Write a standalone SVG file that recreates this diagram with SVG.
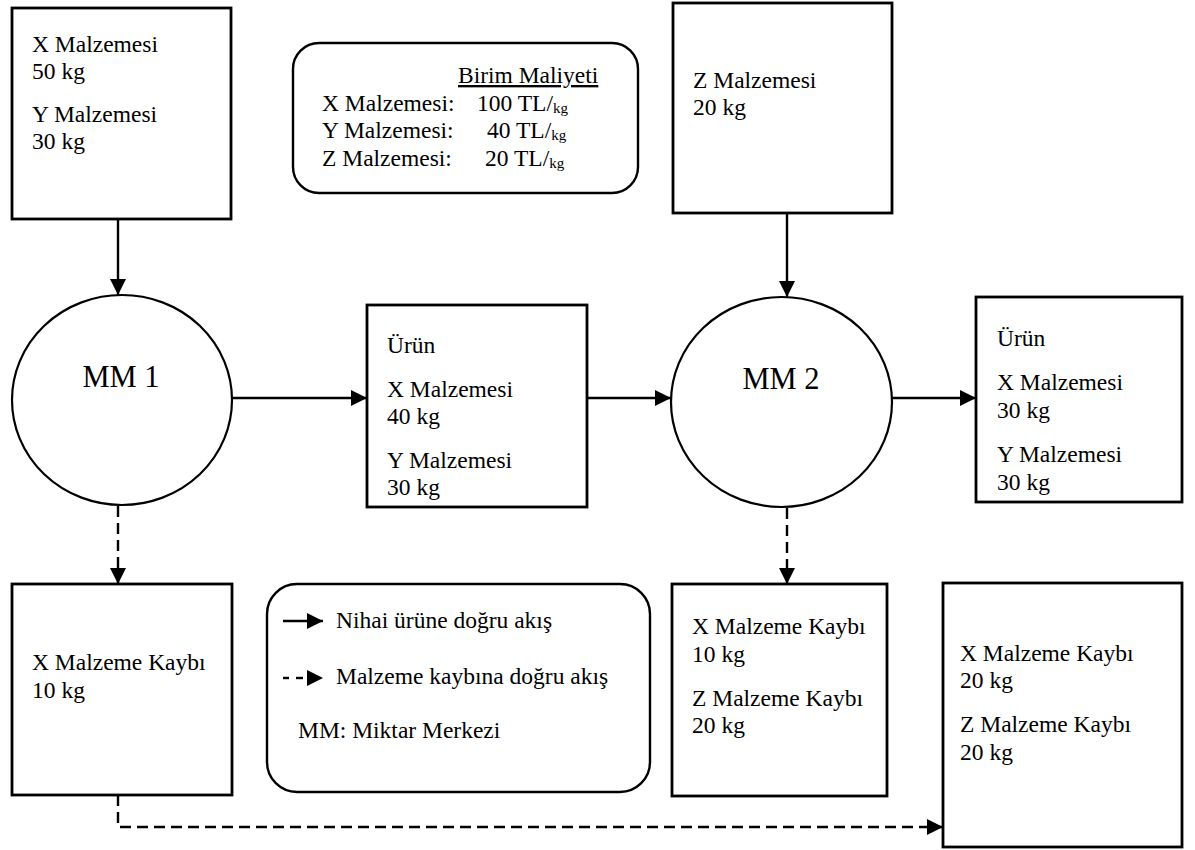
<svg xmlns="http://www.w3.org/2000/svg" width="1195" height="850" viewBox="0 0 1195 850" font-family="'Liberation Serif', 'Times New Roman', 'DejaVu Serif', serif">
  <defs>
    <marker id="arrow" markerUnits="userSpaceOnUse" markerWidth="18" markerHeight="18" viewBox="0 0 18 18" refX="16" refY="9" orient="auto">
      <path d="M0,1 L16,9 L0,17 z" fill="#000"/>
    </marker>
    <style>
      text { font-family: "Liberation Serif", "Times New Roman", "DejaVu Serif", serif; font-size: 23.5px; fill: #000; }
      .box { fill: #fff; stroke: #000; stroke-width: 2.8; }
      .round { fill: #fff; stroke: #000; stroke-width: 2.4; }
      .center { fill: #fff; stroke: #000; stroke-width: 2.2; }
      .mm { font-size: 30.5px; text-anchor: middle; }
      .sub { font-size: 15px; }
      .flow { fill: none; stroke: #000; stroke-width: 2.4; marker-end: url(#arrow); }
      .loss { fill: none; stroke: #000; stroke-width: 2.4; stroke-dasharray: 11 6; marker-end: url(#arrow); }
    </style>
  </defs>

  <rect width="1195" height="850" fill="#fff"/>

  <!-- connectors -->
  <g id="connectors">
    <line class="flow" x1="118" y1="219" x2="118" y2="295"/>
    <line class="flow" x1="787" y1="213" x2="787" y2="297"/>
    <line class="flow" x1="232" y1="398" x2="367" y2="398"/>
    <line class="flow" x1="587" y1="398" x2="671" y2="398"/>
    <line class="flow" x1="892" y1="398" x2="976" y2="398"/>
    <line class="loss" x1="118" y1="506" x2="118" y2="584"/>
    <line class="loss" x1="787" y1="508" x2="787" y2="584"/>
    <path class="loss" d="M118,795 V827 H943"/>
  </g>

  <!-- raw materials into MM 1 -->
  <g id="input-xy">
    <rect class="box" x="12" y="8" width="219" height="211"/>
    <text x="32" y="52">X Malzemesi</text>
    <text x="32" y="79">50 kg</text>
    <text x="32" y="122">Y Malzemesi</text>
    <text x="32" y="149">30 kg</text>
  </g>

  <!-- unit costs -->
  <g id="unit-costs">
    <rect class="round" x="293" y="43" width="345" height="150" rx="26" ry="26"/>
    <text x="458" y="83" text-decoration="underline">Birim Maliyeti</text>
    <text x="322" y="111">X Malzemesi:</text>
    <text x="477" y="111">100 TL/<tspan class="sub" dy="2">kg</tspan></text>
    <text x="322" y="138">Y Malzemesi:</text>
    <text x="487" y="138">40 TL/<tspan class="sub" dy="2">kg</tspan></text>
    <text x="322" y="166">Z Malzemesi:</text>
    <text x="485" y="166">20 TL/<tspan class="sub" dy="2">kg</tspan></text>
  </g>

  <!-- raw material into MM 2 -->
  <g id="input-z">
    <rect class="box" x="673" y="3" width="219" height="210"/>
    <text x="693" y="88">Z Malzemesi</text>
    <text x="693" y="115">20 kg</text>
  </g>

  <!-- quantity centre 1 -->
  <g id="mm1">
    <ellipse class="center" cx="122" cy="400" rx="110" ry="105"/>
    <text class="mm" x="121" y="387">MM 1</text>
  </g>

  <!-- intermediate product -->
  <g id="product-1">
    <rect class="box" x="367" y="305" width="220" height="202"/>
    <text x="387" y="353">Ürün</text>
    <text x="387" y="397">X Malzemesi</text>
    <text x="387" y="424">40 kg</text>
    <text x="387" y="468">Y Malzemesi</text>
    <text x="387" y="495">30 kg</text>
  </g>

  <!-- quantity centre 2 -->
  <g id="mm2">
    <ellipse class="center" cx="781.5" cy="402" rx="110.5" ry="105"/>
    <text class="mm" x="781" y="389">MM 2</text>
  </g>

  <!-- final product -->
  <g id="product-2">
    <rect class="box" x="976" y="297" width="206" height="205"/>
    <text x="997" y="346">Ürün</text>
    <text x="997" y="390">X Malzemesi</text>
    <text x="997" y="418">30 kg</text>
    <text x="997" y="462">Y Malzemesi</text>
    <text x="997" y="490">30 kg</text>
  </g>

  <!-- loss at MM 1 -->
  <g id="loss-1">
    <rect class="box" x="12" y="584" width="220" height="211"/>
    <text x="32" y="670">X Malzeme Kaybı</text>
    <text x="32" y="698">10 kg</text>
  </g>

  <!-- legend -->
  <g id="legend">
    <rect class="round" x="267" y="584" width="383" height="208" rx="30" ry="30"/>
    <line class="flow" x1="283" y1="621" x2="323" y2="621"/>
    <text x="336" y="628">Nihai ürüne doğru akış</text>
    <line x1="283" y1="678" x2="289" y2="678" stroke="#000" stroke-width="2.4"/>
    <line class="flow" x1="296" y1="678" x2="323" y2="678" stroke-dasharray="7 20"/>
    <text x="336" y="684">Malzeme kaybına doğru akış</text>
    <text x="298" y="738">MM: Miktar Merkezi</text>
  </g>

  <!-- loss at MM 2 -->
  <g id="loss-2">
    <rect class="box" x="672" y="584" width="215" height="212"/>
    <text x="692" y="634">X Malzeme Kaybı</text>
    <text x="692" y="662">10 kg</text>
    <text x="692" y="706">Z Malzeme Kaybı</text>
    <text x="692" y="733">20 kg</text>
  </g>

  <!-- total loss -->
  <g id="loss-total">
    <rect class="box" x="943" y="583" width="239" height="264"/>
    <text x="960" y="661">X Malzeme Kaybı</text>
    <text x="960" y="688">20 kg</text>
    <text x="960" y="732">Z Malzeme Kaybı</text>
    <text x="960" y="760">20 kg</text>
  </g>
</svg>
